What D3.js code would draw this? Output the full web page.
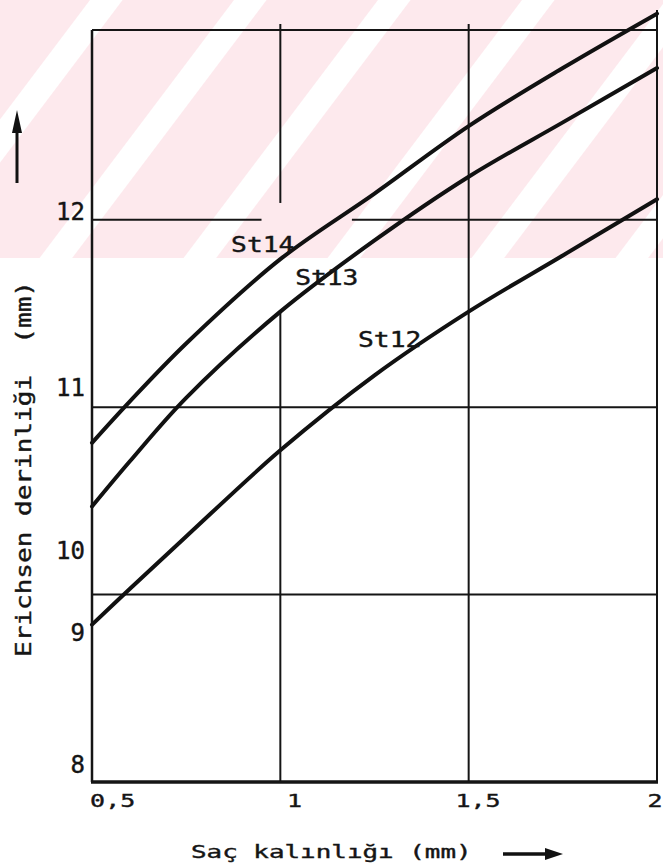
<!DOCTYPE html>
<html>
<head>
<meta charset="utf-8">
<script src="https://cdn.jsdelivr.net/npm/d3@7"></script>
<style>
  body { margin: 0; background: #fff; }
  text { font-family: "DejaVu Sans Mono", monospace; fill: #151515; stroke: #151515; stroke-width: 0.4; }
</style>
</head>
<body>
<div id="chart"></div>
<script>
// sheet thickness (mm) and Erichsen depth (mm)
const thickness = [0.5, 0.6, 0.75, 1.0, 1.25, 1.5, 1.75, 2.0];
const st14 = [10.81, 11.03, 11.34, 11.79, 12.14, 12.50, 12.81, 13.10];
const st13 = [10.47, 10.71, 11.05, 11.51, 11.89, 12.23, 12.52, 12.81];
const st12 = [9.84, 10.03, 10.31, 10.77, 11.17, 11.51, 11.81, 12.11];
const seriesNames = ["St14", "St13", "St12"];
const seriesLabelAt = [[0.872, 11.83], [1.042, 11.65], [1.209, 11.32]];

const xTickLabels = ["0,5", "1", "1,5", "2"];
const xTickLabelAt = [0.495, 1.018, 1.465, 1.975];
// the scan prints the y numbers at these heights
const yTickLabels = ["12", "11", "10", "9", "8"];
const yTickLabelAt = [12.0, 11.06, 10.19, 9.75, 9.05];

// grid segments as drawn (value, from, to)
const vGrid = [[1, 13.045, 12.09], [1, 11.51, 9], [1.5, 13.045, 9], [2, 13.12, 9]];
const hGrid = [[12, 0.5, 0.95], [12, 1.19, 2], [11, 0.5, 2], [10, 0.5, 2]];

const dims = { width: 663, height: 866 };

const x = d3.scaleLinear().domain([0.5, 2]).range([92, 657]);
const y = d3.scaleLinear().domain([9, 13.013]).range([782, 30]);

const svg = d3.select("#chart").append("svg")
    .attr("width", dims.width)
    .attr("height", dims.height);

// faint pink watermark band of the scan
const defs = svg.append("defs");
defs.append("pattern")
    .attr("id", "wm")
    .attr("patternUnits", "userSpaceOnUse")
    .attr("width", 115).attr("height", 400)
    .attr("patternTransform", "translate(234,0) rotate(37)")
    .append("rect")
    .attr("x", 0).attr("y", 0).attr("width", 26).attr("height", 400)
    .attr("fill", "#fff");
svg.append("rect").attr("x", 0).attr("y", 0).attr("width", dims.width).attr("height", 258)
    .attr("fill", "#fde9ed");
svg.append("rect").attr("x", 0).attr("y", 0).attr("width", dims.width).attr("height", 258)
    .attr("fill", "url(#wm)");

// grid
const grid = svg.append("g").attr("stroke", "#151515").attr("stroke-width", 2);
grid.selectAll("line.v").data(vGrid).join("line").attr("class", "v")
    .attr("x1", d => x(d[0])).attr("x2", d => x(d[0]))
    .attr("y1", d => y(d[1])).attr("y2", d => y(d[2]));
grid.selectAll("line.h").data(hGrid).join("line").attr("class", "h")
    .attr("y1", d => y(d[0])).attr("y2", d => y(d[0]))
    .attr("x1", d => x(d[1])).attr("x2", d => x(d[2]));

// frame
svg.append("line").attr("stroke", "#151515").attr("stroke-width", 2.5)
    .attr("x1", x(0.5)).attr("x2", x(0.5)).attr("y1", y(13.013)).attr("y2", y(9));
svg.append("line").attr("stroke", "#151515").attr("stroke-width", 2)
    .attr("x1", x(0.5)).attr("x2", x(2)).attr("y1", y(13.013)).attr("y2", y(13.013));
svg.append("line").attr("stroke", "#151515").attr("stroke-width", 3.5)
    .attr("x1", x(0.5) - 1).attr("x2", x(2) + 1).attr("y1", y(9)).attr("y2", y(9));

// curves
const line = d3.line()
    .x((d, i) => x(thickness[i]))
    .y(d => y(d))
    .curve(d3.curveCatmullRom.alpha(0.5));
svg.append("g")
    .selectAll("path")
    .data([st14, st13, st12])
    .join("path")
    .attr("fill", "none")
    .attr("stroke", "#111")
    .attr("stroke-width", 4)
    .attr("stroke-linecap", "round")
    .attr("d", line);

// curve labels
svg.append("g")
    .selectAll("g")
    .data(seriesNames)
    .join("g")
    .attr("transform", (d, i) => `translate(${x(seriesLabelAt[i][0]) - 1},${y(seriesLabelAt[i][1])}) scale(1.25,1)`)
    .append("text")
    .attr("font-size", 21)
    .text(d => d);

// y tick labels
svg.append("g")
    .selectAll("text")
    .data(yTickLabels)
    .join("text")
    .attr("x", 85)
    .attr("y", (d, i) => y(yTickLabelAt[i]))
    .attr("text-anchor", "end")
    .attr("font-size", 24)
    .text(d => d);

// x tick labels
svg.append("g")
    .selectAll("g")
    .data(xTickLabels)
    .join("g")
    .attr("transform", (d, i) => `translate(${x(xTickLabelAt[i])},807) scale(1.35,1)`)
    .append("text")
    .attr("font-size", 18.5)
    .text(d => d);

// axis titles
svg.append("g")
    .attr("transform", "translate(191,858) scale(1.4,1)")
    .append("text")
    .attr("font-size", 18.5)
    .attr("xml:space", "preserve")
    .text("Saç kalınlığı (mm)");
svg.append("g")
    .attr("transform", "translate(31,657) rotate(-90) scale(1.27,1)")
    .append("text")
    .attr("font-size", 20.5)
    .attr("xml:space", "preserve")
    .style("white-space", "pre")
    .text("Erichsen derinliği  (mm)");

// arrows
svg.append("line").attr("stroke", "#111").attr("stroke-width", 3)
    .attr("x1", 17).attr("x2", 17).attr("y1", 183).attr("y2", 128);
svg.append("path").attr("fill", "#111").attr("d", "M17,110 L12,133 L22,133 Z");
svg.append("line").attr("stroke", "#111").attr("stroke-width", 3.5)
    .attr("x1", 503).attr("x2", 548).attr("y1", 854).attr("y2", 854);
svg.append("path").attr("fill", "#111").attr("d", "M563,854 L545,848 L545,860 Z");
</script>
</body>
</html>
